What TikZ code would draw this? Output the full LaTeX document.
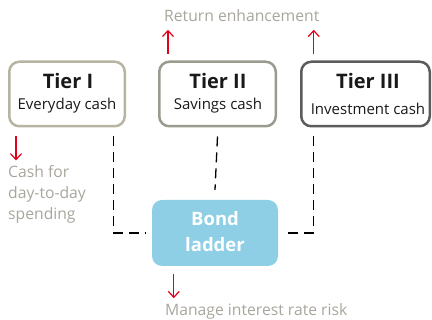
\documentclass[tikz,border=0pt]{standalone}
\usepackage{fontspec}
\setmainfont{Open Sans}
\usetikzlibrary{arrows.meta}
\definecolor{redA}{HTML}{E2001A}
\definecolor{bordA}{HTML}{B7B4A2}
\definecolor{bordB}{HTML}{9B9A8F}
\definecolor{bordC}{HTML}{5C5C5C}
\definecolor{bondfill}{HTML}{8ECFE6}
\definecolor{graytext}{HTML}{A8A69C}
\begin{document}
\begin{tikzpicture}[x=1pt,y=-1pt,
  tierbox/.style={draw, line width=2.5pt, rounded corners=10pt, minimum height=64.5pt, inner sep=0pt},
  titletext/.style={anchor=base, inner sep=0pt, font=\fontsize{20}{24}\selectfont\bfseries, text=black!90},
  subtext/.style={anchor=base, inner sep=0pt, font=\fontsize{15}{18}\selectfont, text=black!90},
  notetext/.style={anchor=base west, inner sep=0pt, font=\fontsize{15.7}{19}\selectfont, text=graytext},
  bondtext/.style={anchor=base, inner sep=0pt, font=\fontsize{18.5}{22}\selectfont\bfseries, text=white},
  dashline/.style={draw=black, line width=1.3pt, dash pattern=on 10pt off 6pt},
  redarrow/.style={draw=redA, line width=1.2pt, -{Straight Barb[length=6pt,width=11pt]}}
]
\useasboundingbox (0,0) rectangle (432,320);

% boxes
\node[tierbox, draw=bordA, minimum width=115.5pt] (t1) at (67,94) {};
\node[tierbox, draw=bordB, minimum width=116.5pt] (t2) at (217.5,94) {};
\node[tierbox, draw=bordC, minimum width=128.5pt] (t3) at (365.5,94) {};
\node[fill=bondfill, rounded corners=10pt, minimum width=126pt, minimum height=66pt, inner sep=0pt] (bond) at (215,233) {};

% box texts
\node[titletext] (t1a) at (68,89) {Tier I};
\node[subtext] (t1b) at (67,110) {Everyday cash};
\node[titletext] (t2a) at (218,89) {Tier II};
\node[subtext] (t2b) at (218,110) {Savings cash};
\node[titletext] (t3a) at (368,89) {Tier III};
\node[subtext] (t3b) at (368,115) {Investment cash};
\node[bondtext] (b1) at (215,226) {Bond};
\node[bondtext] (b2) at (215,252) {ladder};

% notes
\node[notetext] (ret) at (164,22) {Return enhancement};
\node[notetext] (cash1) at (8,178) {Cash for};
\node[notetext] (cash2) at (8,199) {day-to-day};
\node[notetext] (cash3) at (8,220) {spending};
\node[notetext] (mng) at (165,316) {Manage interest rate risk};

% dashed connectors
\draw[dashline] ([xshift=-12.75pt,yshift=-9pt]t1.south east) |- ([xshift=-7pt]bond.west);
\draw[dashline] ([yshift=-9pt]t2.south) -- ([yshift=10pt]bond.north);
\draw[dashline] ([xshift=13.75pt,yshift=-9pt]t3.south west) |- ([xshift=5pt]bond.east);

% red arrows
\draw[redarrow] ([xshift=8pt,yshift=-9pt]t1.south west) -- ++(0,24);
\draw[redarrow] ([xshift=10pt,yshift=6.75pt]t2.north west) -- ++(0,-24);
\draw[redarrow] ([xshift=13.75pt,yshift=6.75pt]t3.north west) -- ++(0,-24);
\draw[redarrow] ([xshift=22pt,yshift=-8pt]bond.south west) -- ++(0,24);
\end{tikzpicture}
\end{document}
